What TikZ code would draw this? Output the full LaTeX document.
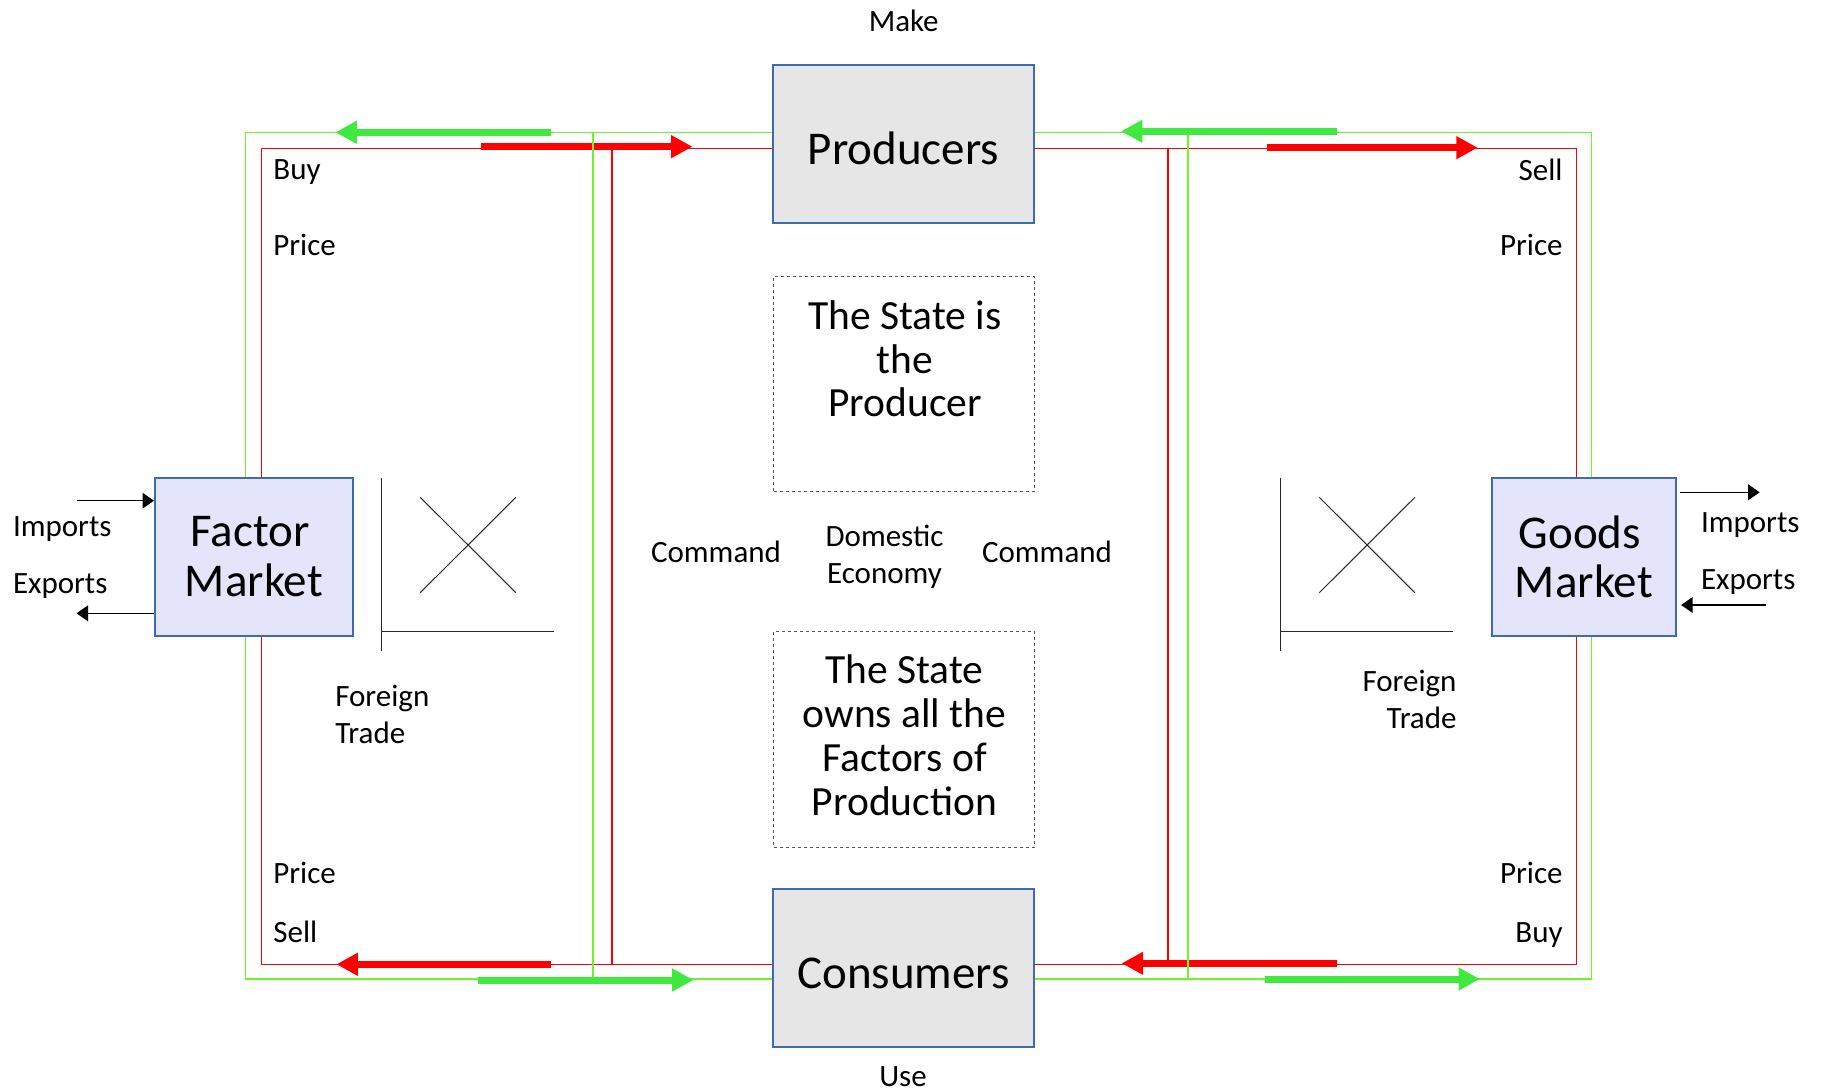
\documentclass[tikz,border=0pt]{standalone}
\usepackage{fontspec}
\setmainfont{Carlito}
\usetikzlibrary{arrows.meta}

\definecolor{flowred}{RGB}{255,0,0}
\definecolor{railgreen}{RGB}{110,245,40}
\definecolor{arrowgreen}{RGB}{64,232,64}
\definecolor{boxblue}{RGB}{62,106,176}
\definecolor{boxgray}{RGB}{230,230,230}
\definecolor{marketfill}{RGB}{228,228,250}
\definecolor{dashgray}{RGB}{85,85,85}
\definecolor{axisgray}{RGB}{40,40,40}

\newcommand\lblsize{\fontsize{15.5pt}{18.65pt}\selectfont}
\newcommand\agentsize{\fontsize{23.5pt}{24.65pt}\selectfont}
\newcommand\statesize{\fontsize{20.75pt}{21.9pt}\selectfont}

\tikzset{
  redrail/.style={draw=flowred, line width=0.75pt},
  greenrail/.style={draw=railgreen, line width=0.75pt},
  redflow/.style={draw=flowred, line width=3.5pt, -{Triangle[length=10.7pt,width=10.8pt]}},
  greenflow/.style={draw=arrowgreen, line width=3.5pt, -{Triangle[length=10.7pt,width=10.8pt]}},
  agentbox/.style={draw=boxblue, line width=1pt, fill=boxgray, inner sep=0pt,
    font=\agentsize, minimum width=130.5pt},
  marketbox/.style={draw=boxblue, line width=1pt, fill=marketfill, inner sep=0pt,
    align=center, font=\agentsize, minimum height=79pt},
  statebox/.style={draw=dashgray, line width=0.5pt, dash pattern=on 1.5pt off 1.5pt,
    inner sep=0pt, minimum width=130.35pt},
  statetext/.style={inner sep=0pt, align=center, font=\statesize},
  lbl/.style={inner sep=0pt, font=\lblsize},
  trade/.style={line width=0.75pt, -{Triangle[length=5.75pt,width=7.8pt]}},
  axisline/.style={draw=axisgray, line width=0.65pt},
  curveline/.style={draw=axisgray, line width=0.5pt},
}

\begin{document}
\begin{tikzpicture}[x=0.5pt,y=-0.5pt]
\useasboundingbox (0,0) rectangle (1822,1092);
\fill[white] (0,0) rectangle (1822,1092);

% money loop (red): outer ring and the two inner uprights
\coordinate (rTL) at (261.4,148.3);
\coordinate (rBR) at (1576.4,964.3);
\draw[redrail] (rTL) rectangle (rBR);
\draw[redrail] (612.1,148.3) -- (612.1,964.3);
\draw[redrail] (1168,148.3) -- (1168,964.3);

% money flow direction
\draw[redflow] (481,146.7) -- (692.5,146.7);
\draw[redflow] (1267.2,147.7) -- (1477.7,147.7);
\draw[redflow] (550.7,964.3) -- (336.4,964.3);
\draw[redflow] (1337.2,963.3) -- (1121.7,963.3);

% goods loop (green): outer ring and the two inner uprights
\coordinate (gTL) at (245.7,132.7);
\coordinate (gBR) at (1591.7,979);
\draw[greenrail] (gTL) rectangle (gBR);
\draw[greenrail] (592.9,132.7) -- (592.9,979);
\draw[greenrail] (1188,132.7) -- (1188,979);

% goods flow direction
\draw[greenflow] (551.4,132.3) -- (335.4,132.3);
\draw[greenflow] (1337.2,131.3) -- (1121,131.3);
\draw[greenflow] (478.2,980) -- (693.6,980);
\draw[greenflow] (1264.5,979) -- (1480,979);

% agents and markets
\node[agentbox, minimum height=79.15pt, text height=19.8pt, text depth=0pt]
  (prod) at (903.5,144.2) {Producers};
\node[agentbox, minimum height=78.85pt, text height=20.45pt, text depth=0pt]
  (cons) at (903.5,967.85) {Consumers};
\node[marketbox, minimum width=98.9pt] (factor) at (253.9,556.7) {Factor\hspace*{4pt}\\Market};
\node[marketbox, minimum width=92.3pt] (goods) at (1583.8,556.7) {Goods\hspace*{4pt}\\Market};

% statements about the state
\node[statebox, minimum height=107.5pt] (stateprod) at (903.95,384) {};
\node[statetext, anchor=north] (stateprodtxt) at (905,300)
  {The State is\\the\\Producer};
\node[statebox, minimum height=108.1pt] (stateown) at (903.95,739.3) {};
\node[statetext, anchor=north] (stateowntxt) at (904.5,654.5)
  {The State\\owns all the\\Factors of\\Production};

% labels
\node[lbl, anchor=base] (make) at (903.7,31.7) {Make};
\node[lbl, anchor=base] (use) at (903,1086) {Use};
\node[lbl, anchor=base west] (cmdL) at (650.7,562.7) {Command};
\node[lbl, anchor=base west] (cmdR) at (981.7,562.7) {Command};
\node[lbl, anchor=north, align=center] (domestic) at (884.5,524.6) {Domestic\\Economy};
\node[lbl, anchor=base west] (buyTL) at (273,179.5) {Buy};
\node[lbl, anchor=base west] (priceTL) at (273,255) {Price};
\node[lbl, anchor=base east] (sellTR) at (1563,180) {Sell};
\node[lbl, anchor=base east] (priceTR) at (1563,255) {Price};
\node[lbl, anchor=base west] (priceBL) at (273,883.3) {Price};
\node[lbl, anchor=base west] (sellBL) at (273,942.7) {Sell};
\node[lbl, anchor=base east] (priceBR) at (1563,883.3) {Price};
\node[lbl, anchor=base east] (buyBR) at (1563,942.7) {Buy};
\node[lbl, anchor=base west] (impL) at (12.6,536.7) {Imports};
\node[lbl, anchor=base west] (expL) at (12.6,593.3) {Exports};
\node[lbl, anchor=base west] (impR) at (1700.6,532.7) {Imports};
\node[lbl, anchor=base west] (expR) at (1700.6,589.3) {Exports};
\node[lbl, anchor=north west, align=left] (ftL) at (334.9,684.5) {Foreign\\Trade};
\node[lbl, anchor=north east, align=right] (ftR) at (1456.9,669.5) {Foreign\\Trade};

% foreign trade arrows
\coordinate (impLtail) at (76.5,500.7);
\coordinate (expLtip) at (76.5,613.3);
\coordinate (impRtip) at (1759.7,492.3);
\coordinate (expRtail) at (1766.2,605);
\draw[trade] (impLtail) -- (impLtail -| factor.west);
\draw[trade] (expLtip -| factor.west) -- (expLtip);
\draw[trade] (impRtip -| goods.east) ++(3,0) -- (impRtip);
\draw[trade] (expRtail) -- ([xshift=2pt]expRtail -| goods.east);

% supply and demand sketches
\draw[axisline] (381.6,478.3) -- (381.6,650.7);
\draw[axisline] (381.6,631.7) -- (554.2,631.7);
\draw[curveline] (420.2,497.3) -- (515.9,592.7);
\draw[curveline] (420.2,592.7) -- (515.9,497.3);
\draw[axisline] (1280.6,478.3) -- (1280.6,650.7);
\draw[axisline] (1280.6,631.7) -- (1453.2,631.7);
\draw[curveline] (1319.3,497.3) -- (1414.9,592.7);
\draw[curveline] (1319.3,592.7) -- (1414.9,497.3);
\end{tikzpicture}
\end{document}
